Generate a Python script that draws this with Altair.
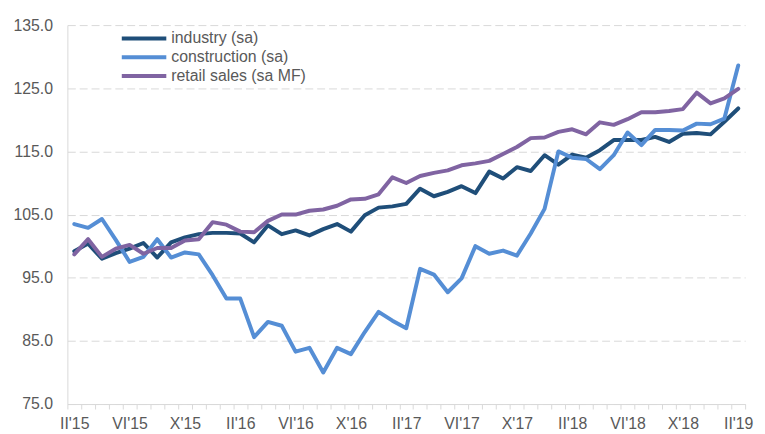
import json
import altair as alt
import pandas as pd

tick_labels = ["II'15", "VI'15", "X'15", "II'16", "VI'16", "X'16", "II'17",
               "VI'17", "X'17", "II'18", "VI'18", "X'18", "II'19"]
series_names = ["industry (sa)", "construction (sa)", "retail sales (sa MF)"]
colors = ["#1F4E79", "#558ED5", "#8064A2"]

industry = [99.2, 100.4, 98.0, 98.9, 99.6, 100.5, 98.2, 100.6, 101.4, 101.9,
            102.1, 102.1, 102.0, 100.6, 103.3, 101.9, 102.5, 101.7, 102.7, 103.5,
            102.3, 104.9, 106.1, 106.3, 106.7, 109.1, 107.9, 108.6, 109.5, 108.4,
            111.8, 110.7, 112.5, 111.9, 114.4, 112.9, 114.5, 114.0, 115.2, 116.8,
            116.8, 116.8, 117.3, 116.5, 117.8, 117.9, 117.7, 119.7, 121.8]
construction = [103.5, 102.9, 104.3, 101.0, 97.5, 98.3, 101.1, 98.2, 99.0, 98.7,
                95.4, 91.7, 91.7, 85.6, 88.0, 87.4, 83.3, 83.9, 80.0, 83.9,
                82.9, 86.4, 89.6, 88.2, 87.0, 96.4, 95.5, 92.7, 94.9, 100.0,
                98.8, 99.3, 98.5, 102.0, 105.9, 115.0, 114.0, 113.8, 112.2, 114.4,
                118.0, 116.0, 118.4, 118.4, 118.3, 119.4, 119.3, 120.2, 128.6]
retail = [98.7, 101.1, 98.3, 99.6, 100.2, 98.8, 99.7, 99.7, 100.9, 101.1,
          103.8, 103.4, 102.3, 102.2, 104.0, 105.0, 105.0, 105.6, 105.8, 106.4,
          107.4, 107.5, 108.2, 110.9, 110.0, 111.1, 111.6, 112.0, 112.8, 113.1,
          113.5, 114.6, 115.7, 117.1, 117.2, 118.1, 118.5, 117.7, 119.6, 119.2,
          120.1, 121.2, 121.2, 121.4, 121.7, 124.3, 122.6, 123.4, 124.9]

rows = []
for name, vals in zip(series_names, [industry, construction, retail]):
    for i, v in enumerate(vals):
        rows.append({"idx": i, "value": v, "series": name})
df = pd.DataFrame(rows)

n = len(industry)
W, H = 685, 383
boundaries = [i - 0.5 for i in range(n + 1)]
label_expr = (f"(datum.value + 0.5) % 4 == 0 && datum.value < {n - 1} ? "
              f"{json.dumps(tick_labels)}[(datum.value + 0.5) / 4] : ''")

FONT = "Liberation Sans"
GREY = "#595959"

chart = alt.Chart(df).mark_line(strokeWidth=4, strokeJoin="round", strokeCap="round").encode(
    x=alt.X("idx:Q",
            scale=alt.Scale(domain=[-0.5, n - 0.5], nice=False, zero=False),
            axis=alt.Axis(values=boundaries, labelExpr=label_expr, title=None, grid=False,
                          tickSize=5, labelOffset=W / n / 2, labelOverlap=False,
                          labelFlush=False, labelBound=False, labelPadding=7,
                          domainColor="#d9d9d9", tickColor="#d9d9d9", labelColor=GREY,
                          labelFontSize=16, labelFont=FONT)),
    y=alt.Y("value:Q",
            scale=alt.Scale(domain=[75, 135], nice=False, zero=False),
            axis=alt.Axis(values=list(range(75, 136, 10)), format=".1f", title=None,
                          grid=True, gridDash=[8, 4], gridColor="#d9d9d9", ticks=False,
                          labelPadding=15, domainColor="#d9d9d9", labelColor=GREY,
                          labelFontSize=16, labelFont=FONT)),
    color=alt.Color("series:N",
                    scale=alt.Scale(domain=series_names, range=colors),
                    legend=alt.Legend(title=None, orient="none", legendX=68, legendY=4,
                                      symbolType="M-3,0H3", symbolSize=225,
                                      symbolStrokeWidth=4, labelFontSize=16,
                                      labelFont=FONT, labelColor=GREY, labelOffset=18,
                                      rowPadding=1, padding=0)),
).properties(
    width=W, height=H,
    autosize=alt.AutoSizeParams(type="none"),
    padding={"left": 60, "top": 15, "right": 12, "bottom": 28},
).configure_view(stroke=None)

chart.save("out.html", embed_options={"renderer": "svg", "actions": False})
